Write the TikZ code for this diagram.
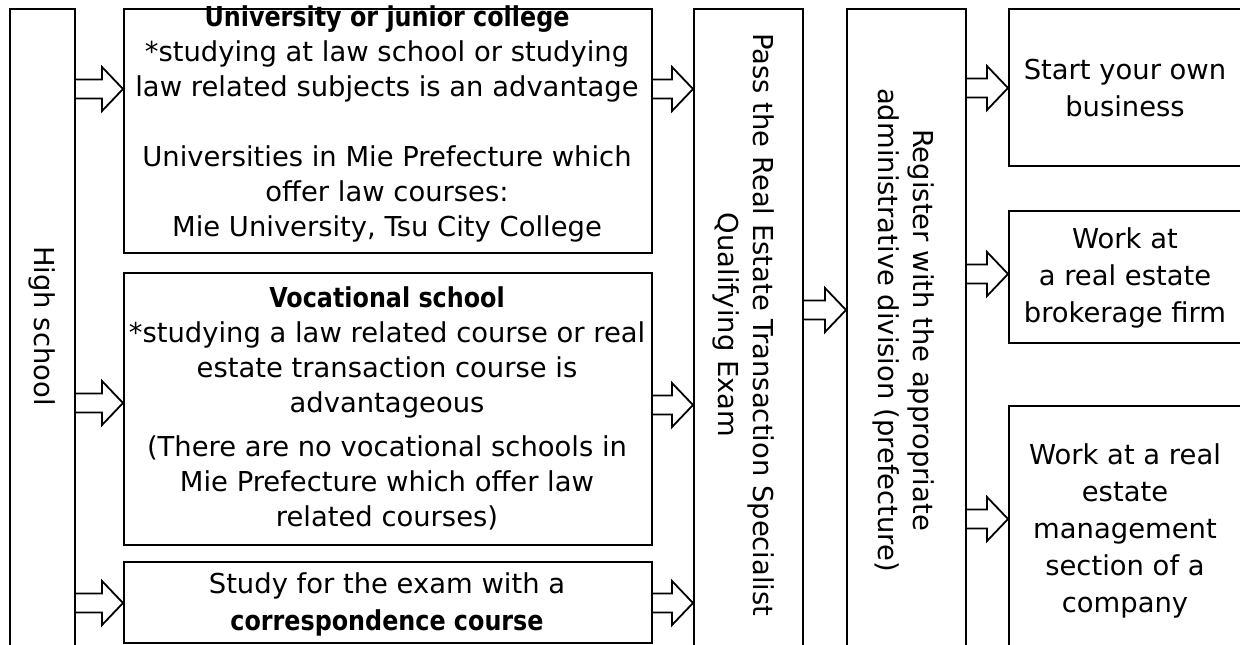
\documentclass[tikz,border=0pt]{standalone}
\usepackage{fontspec}
\setmainfont{DejaVu Sans}
\newfontfamily\headfont[FakeStretch=0.87]{DejaVu Sans Bold}
\usetikzlibrary{calc}
\newcommand{\blockarr}[3]{%
  \path (#1.east |- 0,#3) coordinate (as) (#2.west |- 0,#3) coordinate (ae);
  \draw[arr] ($(as)+(0,-9.5)$) -- ($(ae)+(-21,-9.5)$) -- ($(ae)+(-21,-22)$) -- (ae)
     -- ($(ae)+(-21,22)$) -- ($(ae)+(-21,9.5)$) -- ($(as)+(0,9.5)$);
}
\begin{document}
\begin{tikzpicture}[x=0.5pt,y=-0.5pt,
  box/.style={draw, line width=1pt, fill=white, inner sep=0pt, anchor=north west},
  txt/.style={align=center, font=\fontsize{13.7}{17.5}\selectfont, inner sep=0pt},
  rtxt/.style={align=center, font=\fontsize{13.7}{18.6}\selectfont, inner sep=0pt},
  arr/.style={draw, line width=0.9pt, line join=miter},
  ]
\useasboundingbox (0,0) rectangle (1240,644);
\clip (0,0) rectangle (1240,644);
\fill[white] (0,0) rectangle (1240,644);
% boxes
\node[box, minimum width=32.5pt, minimum height=326pt] (hs) at (9,8) {};
\node[box, minimum width=264pt, minimum height=122pt] (uni) at (123,8) {};
\node[box, minimum width=264pt, minimum height=136pt] (voc) at (123,272) {};
\node[box, minimum width=264pt, minimum height=40.5pt] (corr) at (123,561) {};
\node[box, minimum width=54.5pt, minimum height=326pt] (pass) at (693,8) {};
\node[box, minimum width=59.5pt, minimum height=326pt] (reg) at (846,8) {};
\node[box, minimum width=117pt, minimum height=78.5pt] (start) at (1008,8) {};
\node[box, minimum width=117pt, minimum height=66pt] (work) at (1008,210) {};
\node[box, minimum width=117pt, minimum height=127.5pt] (mgmt) at (1008,405) {};
% texts
\node[txt, anchor=north] (tuni) at (387,5) {{\headfont University or junior college}\\*studying at law school or studying\\law related subjects is an advantage\\[17.5pt]Universities in Mie Prefecture which\\offer law courses:\\Mie University, Tsu City College};
\node[txt] (tvoc) at (387,408) {{\headfont Vocational school}\\*studying a law related course or real\\estate transaction course is\\advantageous\\[4.5pt](There are no vocational schools in\\Mie Prefecture which offer law\\related courses)};
\node[txt] (tcorr) at (387,604) {Study for the exam with a\\[1pt]{\headfont correspondence course}};
\node[txt, rotate=-90] (ths) at (42,326) {High school};
\node[txt, rotate=-90] (tpass) at (744,325) {Pass the Real Estate Transaction Specialist\\Qualifying Exam};
\node[txt, rotate=-90] (treg) at (904,330) {Register with the appropriate\\administrative division (prefecture)};
\node[rtxt] (tstart) at (1125,88) {Start your own\\business};
\node[rtxt] (twork) at (1125,278) {Work at\\a real estate\\brokerage firm};
\node[rtxt] (tmgmt) at (1125,531) {Work at a real\\estate\\management\\section of a\\company};
% arrows
\blockarr{hs}{uni}{89}
\blockarr{hs}{voc}{403}
\blockarr{hs}{corr}{603}
\blockarr{uni}{pass}{89}
\blockarr{voc}{pass}{405}
\blockarr{corr}{pass}{603}
\blockarr{pass}{reg}{310}
\blockarr{reg}{start}{88}
\blockarr{reg}{work}{274}
\blockarr{reg}{mgmt}{519}
\end{tikzpicture}
\end{document}
